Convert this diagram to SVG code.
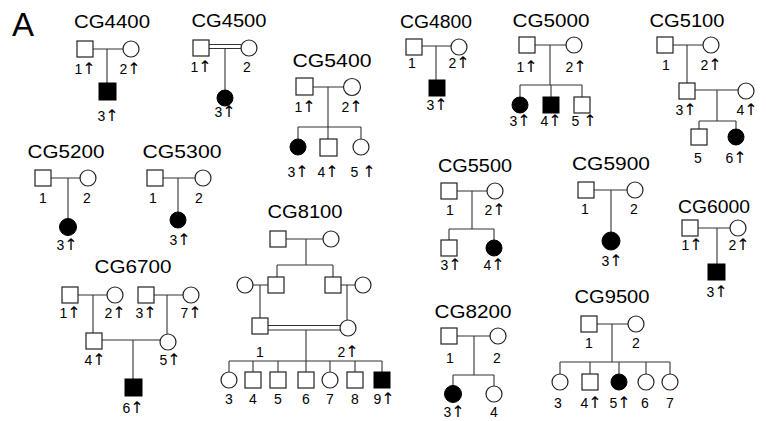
<svg xmlns="http://www.w3.org/2000/svg" width="766" height="421" viewBox="0 0 766 421">
<style>
.m{fill:#fff;stroke:#222;stroke-width:1.2}
.f{fill:#000;stroke:#000;stroke-width:1}
.c{stroke:#333;stroke-width:1.1;fill:none}
text{font-family:"Liberation Sans",Arial,"DejaVu Sans",sans-serif;fill:#000;text-anchor:middle}
.t{font-size:18.5px}
.n{font-size:14px}
.ar{font-family:"DejaVu Sans",sans-serif;font-size:16px}
</style>
<rect width="766" height="421" fill="#fff"/>
<text x="12" y="36" style="font-size:33px;text-anchor:start">A</text>
<g id="connectors">
<path class="c" d="M93 49H123M107 49V83"/>
<path class="c" d="M209 44.5H241M209 48.5H241M225 48.5V90"/>
<path class="c" d="M313 87H343.5M328 87V127M298 127H361M298 127V139M328 127V139M361 127V139"/>
<path class="c" d="M422 46H451M436 46V80"/>
<path class="c" d="M535 45H566M550 45V85M520 85H582M520 85V97M551 85V97M582 85V97"/>
<path class="c" d="M673 45H703M687 45V83M695 90H738M717 90V121M699 121H736M699 121V129M736 121V129"/>
<path class="c" d="M51 178H80M68 178V219"/>
<path class="c" d="M163 178H195M178 178V212"/>
<path class="c" d="M78 295H107M93 295V333M154 295H183M167 295V334M102 340H160M133 340V379"/>
<path class="c" d="M286 239H323M306 239V265M277 265H333M277 265V277M333 265V277M253 285H268M260 285V318M341 285H355M347 285V320M268 325.5H340M268 330H340M306 330V361M229 361H382M229 361V372M253 361V372M278 361V372M306 361V372M330 361V372M355 361V372M382 361V372"/>
<path class="c" d="M457 191H487M472 191V229M449 229H494M449 229V240M494 229V240"/>
<path class="c" d="M594 190H627M611 190V232"/>
<path class="c" d="M698 228H730M717 228V264"/>
<path class="c" d="M457 336H490M474 336V375M453 375H494M453 375V386M494 375V386"/>
<path class="c" d="M597 324H628M612 324V362M560 362H670M560 362V374M590 362V374M619 362V374M646 362V374M670 362V374"/>
</g>
<g id="CG4400">
<text class="t" x="112" y="28" textLength="76" lengthAdjust="spacingAndGlyphs">CG4400</text>
<g id="CG4400-1"><rect class="m" x="77" y="41" width="16" height="16"/><text class="n" x="85" y="74">1<tspan class="ar">↑</tspan></text></g>
<g id="CG4400-2"><circle class="m" cx="131" cy="49" r="8"/><text class="n" x="130" y="74">2<tspan class="ar">↑</tspan></text></g>
<g id="CG4400-3"><rect class="f" x="99" y="83" width="17" height="17"/><text class="n" x="108" y="121">3<tspan class="ar">↑</tspan></text></g>
</g>
<g id="CG4500">
<text class="t" x="229" y="27" textLength="75" lengthAdjust="spacingAndGlyphs">CG4500</text>
<g id="CG4500-1"><rect class="m" x="193" y="40" width="16" height="16"/><text class="n" x="201" y="72">1<tspan class="ar">↑</tspan></text></g>
<g id="CG4500-2"><circle class="m" cx="249" cy="48" r="8"/><text class="n" x="247" y="72">2</text></g>
<g id="CG4500-3"><circle class="f" cx="225" cy="98" r="8"/><text class="n" x="225" y="117">3<tspan class="ar">↑</tspan></text></g>
</g>
<g id="CG5400">
<text class="t" x="332" y="67" textLength="79" lengthAdjust="spacingAndGlyphs">CG5400</text>
<g id="CG5400-1"><rect class="m" x="296" y="78" width="17" height="17"/><text class="n" x="305" y="112">1<tspan class="ar">↑</tspan></text></g>
<g id="CG5400-2"><circle class="m" cx="352" cy="87" r="8.5"/><text class="n" x="352" y="112">2<tspan class="ar">↑</tspan></text></g>
<g id="CG5400-3"><circle class="f" cx="298" cy="147" r="8"/><text class="n" x="298" y="177">3<tspan class="ar">↑</tspan></text></g>
<g id="CG5400-4"><rect class="m" x="320" y="139" width="17" height="17"/><text class="n" x="328" y="177">4<tspan class="ar">↑</tspan></text></g>
<g id="CG5400-5"><circle class="m" cx="361" cy="147" r="8"/><text class="n" x="363" y="177">5 <tspan class="ar">↑</tspan></text></g>
</g>
<g id="CG4800">
<text class="t" x="436" y="28" textLength="72" lengthAdjust="spacingAndGlyphs">CG4800</text>
<g id="CG4800-1"><rect class="m" x="406" y="39" width="16" height="16"/><text class="n" x="412" y="68">1</text></g>
<g id="CG4800-2"><circle class="m" cx="459" cy="47" r="8"/><text class="n" x="459" y="68">2<tspan class="ar">↑</tspan></text></g>
<g id="CG4800-3"><rect class="f" x="429" y="80" width="16" height="16"/><text class="n" x="437" y="110">3<tspan class="ar">↑</tspan></text></g>
</g>
<g id="CG5000">
<text class="t" x="551" y="27" textLength="77" lengthAdjust="spacingAndGlyphs">CG5000</text>
<g id="CG5000-1"><rect class="m" x="519" y="37" width="16" height="16"/><text class="n" x="527" y="72">1<tspan class="ar">↑</tspan></text></g>
<g id="CG5000-2"><circle class="m" cx="574" cy="45" r="8"/><text class="n" x="576" y="72">2<tspan class="ar">↑</tspan></text></g>
<g id="CG5000-3"><circle class="f" cx="520" cy="105" r="8"/><text class="n" x="520" y="126">3<tspan class="ar">↑</tspan></text></g>
<g id="CG5000-4"><rect class="f" x="543" y="97" width="16" height="16"/><text class="n" x="551" y="126">4<tspan class="ar">↑</tspan></text></g>
<g id="CG5000-5"><rect class="m" x="574" y="97" width="16" height="16"/><text class="n" x="584" y="126">5 <tspan class="ar">↑</tspan></text></g>
</g>
<g id="CG5100">
<text class="t" x="687" y="27" textLength="75" lengthAdjust="spacingAndGlyphs">CG5100</text>
<g id="CG5100-1"><rect class="m" x="657" y="37" width="16" height="16"/><text class="n" x="666" y="70">1</text></g>
<g id="CG5100-2"><circle class="m" cx="711" cy="45" r="8"/><text class="n" x="711" y="70">2<tspan class="ar">↑</tspan></text></g>
<g id="CG5100-3"><rect class="m" x="679" y="83" width="16" height="16"/><text class="n" x="686" y="115">3<tspan class="ar">↑</tspan></text></g>
<g id="CG5100-4"><circle class="m" cx="746" cy="91" r="8"/><text class="n" x="747" y="115">4<tspan class="ar">↑</tspan></text></g>
<g id="CG5100-5"><rect class="m" x="691" y="129" width="16" height="16"/><text class="n" x="698" y="163">5</text></g>
<g id="CG5100-6"><circle class="f" cx="736" cy="137" r="8"/><text class="n" x="736" y="163">6<tspan class="ar">↑</tspan></text></g>
</g>
<g id="CG5200">
<text class="t" x="66" y="158" textLength="77" lengthAdjust="spacingAndGlyphs">CG5200</text>
<g id="CG5200-1"><rect class="m" x="35" y="170" width="16" height="16"/><text class="n" x="43" y="203">1</text></g>
<g id="CG5200-2"><circle class="m" cx="88" cy="178" r="8"/><text class="n" x="87" y="203">2</text></g>
<g id="CG5200-3"><circle class="f" cx="68" cy="227" r="8.5"/><text class="n" x="67" y="250">3<tspan class="ar">↑</tspan></text></g>
</g>
<g id="CG5300">
<text class="t" x="182" y="158" textLength="79" lengthAdjust="spacingAndGlyphs">CG5300</text>
<g id="CG5300-1"><rect class="m" x="147" y="170" width="16" height="16"/><text class="n" x="153" y="203">1</text></g>
<g id="CG5300-2"><circle class="m" cx="203" cy="178" r="8"/><text class="n" x="199" y="203">2</text></g>
<g id="CG5300-3"><circle class="f" cx="178" cy="220" r="8"/><text class="n" x="180" y="245">3<tspan class="ar">↑</tspan></text></g>
</g>
<g id="CG6700">
<text class="t" x="133" y="273" textLength="77" lengthAdjust="spacingAndGlyphs">CG6700</text>
<g id="CG6700-1"><rect class="m" x="62" y="287" width="16" height="16"/><text class="n" x="70" y="318">1<tspan class="ar">↑</tspan></text></g>
<g id="CG6700-2"><circle class="m" cx="115" cy="295" r="8"/><text class="n" x="115" y="318">2<tspan class="ar">↑</tspan></text></g>
<g id="CG6700-3"><rect class="m" x="138" y="287" width="16" height="16"/><text class="n" x="146" y="318">3<tspan class="ar">↑</tspan></text></g>
<g id="CG6700-7"><circle class="m" cx="191" cy="295" r="8"/><text class="n" x="191" y="318">7<tspan class="ar">↑</tspan></text></g>
<g id="CG6700-4"><rect class="m" x="86" y="333" width="16" height="16"/><text class="n" x="95" y="365">4<tspan class="ar">↑</tspan></text></g>
<g id="CG6700-5"><circle class="m" cx="168" cy="342" r="8"/><text class="n" x="170" y="365">5<tspan class="ar">↑</tspan></text></g>
<g id="CG6700-6"><rect class="f" x="125" y="379" width="17" height="17"/><text class="n" x="133" y="413">6<tspan class="ar">↑</tspan></text></g>
</g>
<g id="CG8100">
<text class="t" x="305" y="218" textLength="75" lengthAdjust="spacingAndGlyphs">CG8100</text>
<g id="CG8100-gf"><rect class="m" x="270" y="231" width="16" height="16"/></g>
<g id="CG8100-gm"><circle class="m" cx="331" cy="239" r="8"/></g>
<g id="CG8100-s1"><rect class="m" x="268" y="277" width="16" height="16"/></g>
<g id="CG8100-s2"><rect class="m" x="325" y="277" width="16" height="16"/></g>
<g id="CG8100-w1"><circle class="m" cx="245" cy="285" r="8"/></g>
<g id="CG8100-w2"><circle class="m" cx="363" cy="285" r="8"/></g>
<g id="CG8100-1"><rect class="m" x="252" y="318" width="16" height="16"/><text class="n" x="260" y="357">1</text></g>
<g id="CG8100-2"><circle class="m" cx="348" cy="328" r="8"/><text class="n" x="348" y="357">2<tspan class="ar">↑</tspan></text></g>
<g id="CG8100-3"><circle class="m" cx="229" cy="380" r="8"/><text class="n" x="229" y="404">3</text></g>
<g id="CG8100-4"><rect class="m" x="245" y="372" width="16" height="16"/><text class="n" x="253" y="404">4</text></g>
<g id="CG8100-5"><rect class="m" x="270" y="372" width="16" height="16"/><text class="n" x="278" y="404">5</text></g>
<g id="CG8100-6"><rect class="m" x="298" y="372" width="16" height="16"/><text class="n" x="306" y="404">6</text></g>
<g id="CG8100-7"><circle class="m" cx="330" cy="380" r="8"/><text class="n" x="330" y="404">7</text></g>
<g id="CG8100-8"><rect class="m" x="347" y="372" width="16" height="16"/><text class="n" x="355" y="404">8</text></g>
<g id="CG8100-9"><rect class="f" x="374" y="372" width="16" height="16"/><text class="n" x="384" y="404">9<tspan class="ar">↑</tspan></text></g>
</g>
<g id="CG5500">
<text class="t" x="475" y="172" textLength="74" lengthAdjust="spacingAndGlyphs">CG5500</text>
<g id="CG5500-1"><rect class="m" x="441" y="183" width="16" height="16"/><text class="n" x="450" y="215">1</text></g>
<g id="CG5500-2"><circle class="m" cx="495" cy="191" r="8"/><text class="n" x="495" y="215">2<tspan class="ar">↑</tspan></text></g>
<g id="CG5500-3"><rect class="m" x="441" y="240" width="16" height="16"/><text class="n" x="451" y="270">3<tspan class="ar">↑</tspan></text></g>
<g id="CG5500-4"><circle class="f" cx="494" cy="248" r="8"/><text class="n" x="494" y="270">4<tspan class="ar">↑</tspan></text></g>
</g>
<g id="CG5900">
<text class="t" x="611" y="170" textLength="78" lengthAdjust="spacingAndGlyphs">CG5900</text>
<g id="CG5900-1"><rect class="m" x="578" y="182" width="16" height="16"/><text class="n" x="585" y="214">1</text></g>
<g id="CG5900-2"><circle class="m" cx="635" cy="190" r="8"/><text class="n" x="634" y="214">2</text></g>
<g id="CG5900-3"><circle class="f" cx="611" cy="241" r="9"/><text class="n" x="612" y="266">3<tspan class="ar">↑</tspan></text></g>
</g>
<g id="CG6000">
<text class="t" x="714" y="213" textLength="72" lengthAdjust="spacingAndGlyphs">CG6000</text>
<g id="CG6000-1"><rect class="m" x="682" y="220" width="16" height="16"/><text class="n" x="692" y="250">1<tspan class="ar">↑</tspan></text></g>
<g id="CG6000-2"><circle class="m" cx="738" cy="228" r="8"/><text class="n" x="739" y="250">2<tspan class="ar">↑</tspan></text></g>
<g id="CG6000-3"><rect class="f" x="708" y="264" width="17" height="16"/><text class="n" x="717" y="297">3<tspan class="ar">↑</tspan></text></g>
</g>
<g id="CG8200">
<text class="t" x="473" y="318" textLength="77" lengthAdjust="spacingAndGlyphs">CG8200</text>
<g id="CG8200-1"><rect class="m" x="441" y="328" width="16" height="16"/><text class="n" x="450" y="363">1</text></g>
<g id="CG8200-2"><circle class="m" cx="498" cy="336" r="8"/><text class="n" x="497" y="363">2</text></g>
<g id="CG8200-3"><circle class="f" cx="453" cy="394" r="8.5"/><text class="n" x="454" y="417">3<tspan class="ar">↑</tspan></text></g>
<g id="CG8200-4"><circle class="m" cx="494" cy="394" r="8"/><text class="n" x="494" y="417">4</text></g>
</g>
<g id="CG9500">
<text class="t" x="612" y="303" textLength="75" lengthAdjust="spacingAndGlyphs">CG9500</text>
<g id="CG9500-1"><rect class="m" x="581" y="316" width="16" height="16"/><text class="n" x="589" y="348">1</text></g>
<g id="CG9500-2"><circle class="m" cx="636" cy="324" r="8"/><text class="n" x="636" y="348">2</text></g>
<g id="CG9500-3"><circle class="m" cx="560" cy="382" r="8"/><text class="n" x="558" y="408">3</text></g>
<g id="CG9500-4"><rect class="m" x="582" y="374" width="16" height="16"/><text class="n" x="591" y="408">4<tspan class="ar">↑</tspan></text></g>
<g id="CG9500-5"><circle class="f" cx="619" cy="382" r="8"/><text class="n" x="620" y="408">5<tspan class="ar">↑</tspan></text></g>
<g id="CG9500-6"><circle class="m" cx="646" cy="382" r="8"/><text class="n" x="645" y="408">6</text></g>
<g id="CG9500-7"><circle class="m" cx="670" cy="382" r="8"/><text class="n" x="670" y="408">7</text></g>
</g>
</svg>
